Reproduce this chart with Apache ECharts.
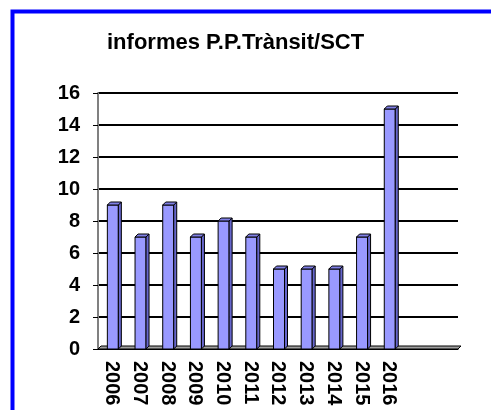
<!doctype html>
<html>
<head>
<meta charset="utf-8">
<title>informes P.P.Trànsit/SCT</title>
<script src="https://cdn.jsdelivr.net/npm/echarts@6/dist/echarts.min.js"></script>
<style>
  html, body { margin: 0; padding: 0; background: #fff; }
  #main { width: 491px; height: 410px; }
</style>
</head>
<body>
<div id="main"></div>
<script>
var years = ['2006', '2007', '2008', '2009', '2010', '2011', '2012', '2013', '2014', '2015', '2016', '', ''];
var informes = [9, 7, 9, 7, 8, 7, 5, 5, 5, 7, 15];
var yTicks = [0, 2, 4, 6, 8, 10, 12, 14, 16];

var chart = echarts.init(document.getElementById('main'));
var font = 'Liberation Sans, Arial, sans-serif';
var d = 3; // depth offset of the fake 3D

function bar3d(params, api) {
    var v = api.value(1);
    var top = api.coord([api.value(0), v]);
    var base = api.coord([api.value(0), 0]);
    var hw = 5.5;
    var x0 = top[0] - hw + 1, x1 = top[0] + hw + 1;
    var style = { stroke: '#000', lineWidth: 1 };
    return {
        type: 'group',
        children: [{
            type: 'rect',
            shape: { x: x0, y: top[1], width: x1 - x0, height: base[1] - top[1] },
            style: Object.assign({ fill: '#9999ff' }, style)
        }, {
            type: 'polygon',
            shape: { points: [[x1, top[1]], [x1 + d, top[1] - d], [x1 + d, base[1] - d], [x1, base[1]]] },
            style: Object.assign({ fill: '#6666cc' }, style)
        }, {
            type: 'polygon',
            shape: { points: [[x0, top[1]], [x0 + d, top[1] - d], [x1 + d, top[1] - d], [x1, top[1]]] },
            style: Object.assign({ fill: '#8080e6' }, style)
        }]
    };
}

chart.setOption({
    backgroundColor: '#fff',
    animation: false,
    title: {
        text: 'informes P.P.Tr\u00e0nsit/SCT',
        left: 102,
        top: 27,
        textStyle: { fontFamily: font, fontSize: 22, fontWeight: 'bold', color: '#000' }
    },
    graphic: [{
        type: 'rect',
        shape: { x: 12.5, y: 11.5, width: 600, height: 600 },
        style: { fill: 'none', stroke: '#0000ff', lineWidth: 4 }
    }, {
        type: 'polygon',
        shape: { points: [[98, 349], [101, 346], [461, 346], [458, 349]] },
        style: { fill: '#a0a0a0', stroke: '#000', lineWidth: 1 },
        z: 1
    }],
    grid: { left: 98, right: 33, top: 93, bottom: 61 },
    xAxis: {
        type: 'category',
        data: years,
        boundaryGap: true,
        axisLine: { lineStyle: { color: '#000', width: 1 } },
        axisTick: { length: 5, lineStyle: { color: '#000', width: 1 } },
        axisLabel: {
            rotate: -90,
            interval: 0,
            margin: 12,
            fontFamily: font,
            fontSize: 20,
            fontWeight: 'bold',
            color: '#000'
        }
    },
    yAxis: {
        type: 'value',
        min: yTicks[0],
        max: yTicks[yTicks.length - 1],
        interval: 2,
        axisLine: { show: true, lineStyle: { color: '#808080', width: 2 } },
        axisTick: { show: true, length: 5, lineStyle: { color: '#000' } },
        splitLine: { lineStyle: { color: '#000', width: 2 } },
        axisLabel: {
            margin: 18,
            padding: [5, 0, 0, 0],
            fontFamily: font,
            fontSize: 20,
            fontWeight: 'bold',
            color: '#000'
        }
    },
    series: [{
        type: 'custom',
        renderItem: bar3d,
        data: informes.map(function (v, i) { return [i, v]; }),
        encode: { x: 0, y: 1 },
        z: 5
    }]
});
</script>
</body>
</html>
